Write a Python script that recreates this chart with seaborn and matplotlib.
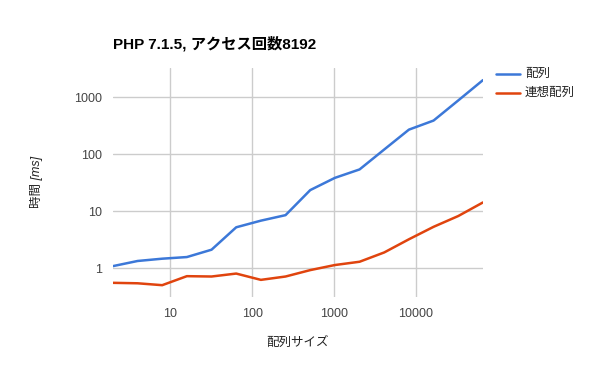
import numpy as np
import matplotlib.pyplot as plt
import seaborn as sns
import pandas as pd

# data
sizes = [2, 4, 8, 16, 32, 64, 128, 256, 512, 1024, 2048, 4096, 8192, 16384, 32768, 65536]
array_ms = [1.08, 1.33, 1.46, 1.56, 2.1, 5.2, 6.8, 8.5, 23.4, 38.4, 54, 121, 270, 390, 880, 2000]
assoc_ms = [0.55, 0.54, 0.50, 0.72, 0.71, 0.80, 0.62, 0.71, 0.92, 1.13, 1.29, 1.88, 3.2, 5.3, 8.2, 14.2]
series_names = ['配列', '連想配列']
x_ticks = [10, 100, 1000, 10000]
y_ticks = [1, 10, 100, 1000]

df = pd.DataFrame({'size': sizes * 2,
                   'ms': array_ms + assoc_ms,
                   'series': [series_names[0]] * len(sizes) + [series_names[1]] * len(sizes)})

sns.set_style('white')
plt.rcParams['font.family'] = ['Liberation Sans', 'Noto Sans CJK JP', 'DejaVu Sans']

fig = plt.figure(figsize=(5.94, 3.67), dpi=100)
ax = fig.add_axes([0.190, 0.1916, 0.623, 0.624])

palette = {'配列': '#3c78d8', '連想配列': '#e0440e'}
sns.lineplot(data=df, x='size', y='ms', hue='series', palette=palette,
             linewidth=1.8, ax=ax, legend=False)

ax.set_xscale('log')
ax.set_yscale('log')
ax.set_xlim(2, 65536)
ax.set_ylim(0.314, 3311)
ax.set_xticks(x_ticks)
ax.set_xticklabels([str(t) for t in x_ticks])
ax.set_yticks(y_ticks)
ax.set_yticklabels([str(t) for t in y_ticks])
ax.minorticks_off()
ax.grid(True, color='#cccccc', linewidth=1)
ax.set_axisbelow(True)
for s in ax.spines.values():
    s.set_visible(False)
ax.tick_params(length=0, labelsize=9, colors='#444444', pad=8)

ax.set_xlabel('配列サイズ', fontsize=9, style='italic', color='#222222', labelpad=12)
ax.set_ylabel('時間 [ms]', fontsize=9, style='italic', color='#222222', labelpad=22)

fig.text(0.190, 0.882, 'PHP 7.1.5, アクセス回数8192', fontsize=11, fontweight='bold',
         color='#000000', ha='left', va='center')

# legend on the right
for i, name in enumerate(series_names):
    yy = 1 - (73.7 + 19 * i) / 367
    fig.add_artist(plt.Line2D([496 / 594, 520 / 594], [yy, yy], color=palette[name], linewidth=1.8))
    fig.text(525 / 594, yy, name, fontsize=9, color='#222222', ha='left', va='center')

plt.savefig('out.png', dpi=100)
